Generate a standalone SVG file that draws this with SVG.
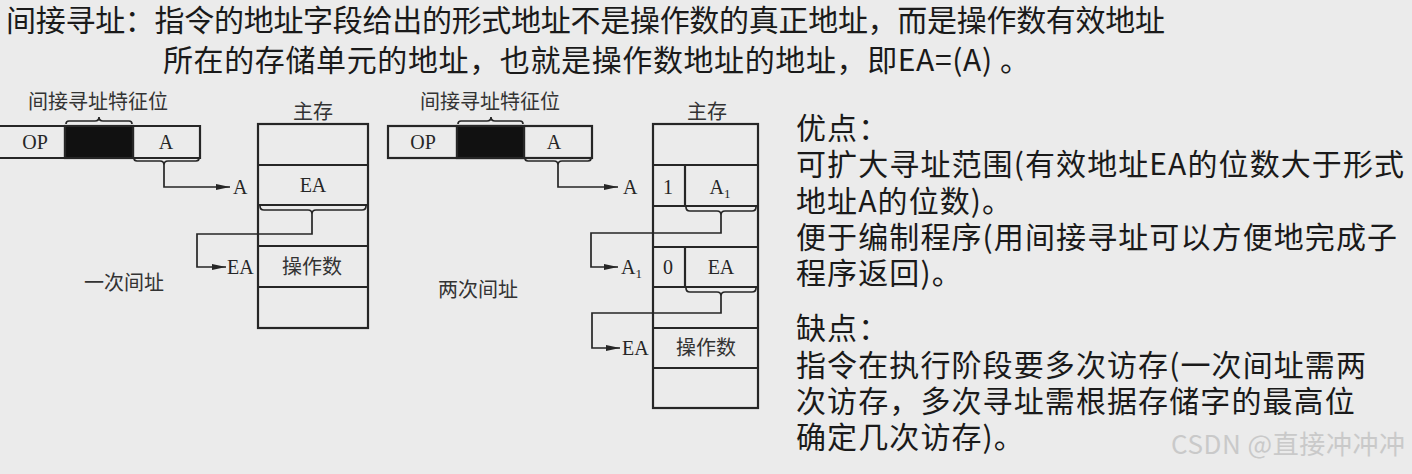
<svg xmlns="http://www.w3.org/2000/svg" width="1412" height="474" viewBox="0 0 1412 474">
<style>
.bg{fill:#ebebeb}
.bx{fill:none;stroke:#262626;stroke-width:2.2}
.blk{fill:#111;stroke:#262626;stroke-width:2.2}
.ln{fill:none;stroke:#262626;stroke-width:1.7}
.br{fill:none;stroke:#262626;stroke-width:1.7}
.d{font-family:"Liberation Serif","Noto Sans CJK SC",serif;font-size:20px;fill:#262626}
.dc{font-family:"Noto Sans CJK SC",sans-serif;font-size:20px;fill:#333}
.m{text-anchor:middle}
.ttl{font-family:"Noto Sans CJK SC","Liberation Sans",sans-serif;font-size:30px;fill:#1a1a1a}
.body{font-family:"Noto Sans CJK SC","Liberation Sans",sans-serif;font-size:30px;fill:#1a1a1a;letter-spacing:1.1px}
.wm{font-family:"Noto Sans CJK SC","Liberation Sans",sans-serif;font-size:26px;fill:#c9c9c9}
</style>
<defs>
<marker id="ah" viewBox="0 0 14 6" refX="14" refY="3" markerWidth="14" markerHeight="6" markerUnits="userSpaceOnUse" orient="auto">
<path d="M0,0 L14,3 L0,6 Z" fill="#262626"/>
</marker>
</defs>
<rect class="bg" x="0" y="0" width="1412" height="474"/>

<g id="title">
<text class="ttl" x="6" y="31" textLength="1159" lengthAdjust="spacing">间接寻址：指令的地址字段给出的形式地址不是操作数的真正地址，而是操作数有效地址</text>
<text class="ttl" x="163" y="71" textLength="867" lengthAdjust="spacing">所在的存储单元的地址，也就是操作数地址的地址，即EA=(A) 。</text>
</g>

<!-- Diagram 1: single indirect -->
<g id="d1-label"><text class="dc m" x="98" y="109">间接寻址特征位</text></g>
<g id="d1-instr">
<rect class="blk" x="65" y="126" width="68" height="32"/>
<path class="bx" d="M-2,126 H200 V158 H-2 M65,126 V158 M133,126 V158"/>
<text class="d m" x="35" y="149">OP</text>
<text class="d m" x="166" y="149">A</text>
</g>
<g id="d1-mem">
<text class="dc m" x="313" y="119">主存</text>
<rect class="bx" x="258" y="124" width="110" height="204"/>
<path class="bx" d="M258,165 H368 M258,205 H368 M258,246 H368 M258,287 H368"/>
<text class="d m" x="313" y="192">EA</text>
<text class="dc m" x="312" y="274">操作数</text>
</g>
<g id="d1-addr">
<text class="d" x="233" y="194">A</text>
<text class="d" x="227" y="274">EA</text>
</g>
<g id="d1-caption"><text class="dc m" x="124" y="290">一次间址</text></g>

<!-- Diagram 2: double indirect -->
<g id="d2-label"><text class="dc m" x="490" y="109">间接寻址特征位</text></g>
<g id="d2-instr">
<rect class="blk" x="457" y="126" width="67" height="32"/>
<rect class="bx" x="388" y="126" width="204" height="32"/>
<path class="bx" d="M457,126 V158 M524,126 V158"/>
<text class="d m" x="423" y="149">OP</text>
<text class="d m" x="554" y="149">A</text>
</g>
<g id="d2-mem">
<text class="dc m" x="707" y="119">主存</text>
<rect class="bx" x="653" y="124" width="105" height="284"/>
<path class="bx" d="M653,165 H758 M653,206 H758 M653,247 H758 M653,287 H758 M653,328 H758 M653,368 H758 M685,165 V206 M685,247 V287"/>
<text class="d m" x="668" y="194">1</text>
<text class="d m" x="720" y="194">A<tspan font-size="13" dy="4">1</tspan></text>
<text class="d m" x="668" y="274">0</text>
<text class="d m" x="721" y="274">EA</text>
<text class="dc m" x="706" y="355">操作数</text>
</g>
<g id="d2-addr">
<text class="d" x="623" y="194">A</text>
<text class="d" x="621" y="274">A<tspan font-size="13" dy="4">1</tspan></text>
<text class="d" x="622" y="355">EA</text>
</g>
<g id="d2-caption"><text class="dc m" x="478" y="297">两次间址</text></g>

<!-- connectors and braces -->
<g id="connectors">
<path class="br" d="M66,124 q0,-3 3,-3 H95 q4,0 4,-4 q0,4 4,4 H129 q3,0 3,3"/>
<path class="br" d="M134,158 q0,3 3,3 H160 q4,0 4,4 q0,-4 4,-4 H196 q3,0 3,-3"/>
<path class="ln" d="M164,165 V187 H230" marker-end="url(#ah)"/>
<path class="br" d="M260,206 q0,4 4,4 H308 q4,0 4,4 q0,-4 4,-4 H362 q4,0 4,-4"/>
<path class="ln" d="M312,214 V234 H197 V267 H226" marker-end="url(#ah)"/>

<path class="br" d="M458,124 q0,-3 3,-3 H487 q4,0 4,-4 q0,4 4,4 H520 q3,0 3,3"/>
<path class="br" d="M525,158 q0,3 3,3 H554 q4,0 4,4 q0,-4 4,-4 H588 q3,0 3,-3"/>
<path class="ln" d="M558,165 V187 H618" marker-end="url(#ah)"/>
<path class="br" d="M686,207 q0,4 4,4 H717 q4,0 4,4 q0,-4 4,-4 H752 q4,0 4,-4"/>
<path class="ln" d="M721,215 V233 H591 V267 H618" marker-end="url(#ah)"/>
<path class="br" d="M686,288 q0,4 4,4 H717 q4,0 4,4 q0,-4 4,-4 H752 q4,0 4,-4"/>
<path class="ln" d="M721,296 V313 H592 V348 H620" marker-end="url(#ah)"/>
</g>

<g id="notes">
<text class="body" x="796" y="139">优点：</text>
<text class="body" x="796" y="175">可扩大寻址范围(有效地址EA的位数大于形式</text>
<text class="body" x="796" y="212">地址A的位数)。</text>
<text class="body" x="796" y="248">便于编制程序(用间接寻址可以方便地完成子</text>
<text class="body" x="796" y="284">程序返回)。</text>
<text class="body" x="796" y="339">缺点：</text>
<text class="body" x="796" y="376">指令在执行阶段要多次访存(一次间址需两</text>
<text class="body" x="796" y="412">次访存，多次寻址需根据存储字的最高位</text>
<text class="body" x="796" y="448">确定几次访存)。</text>
</g>
<g id="watermark"><text class="wm" x="1171" y="454" textLength="234" lengthAdjust="spacing">CSDN @直接冲冲冲</text></g>
</svg>
